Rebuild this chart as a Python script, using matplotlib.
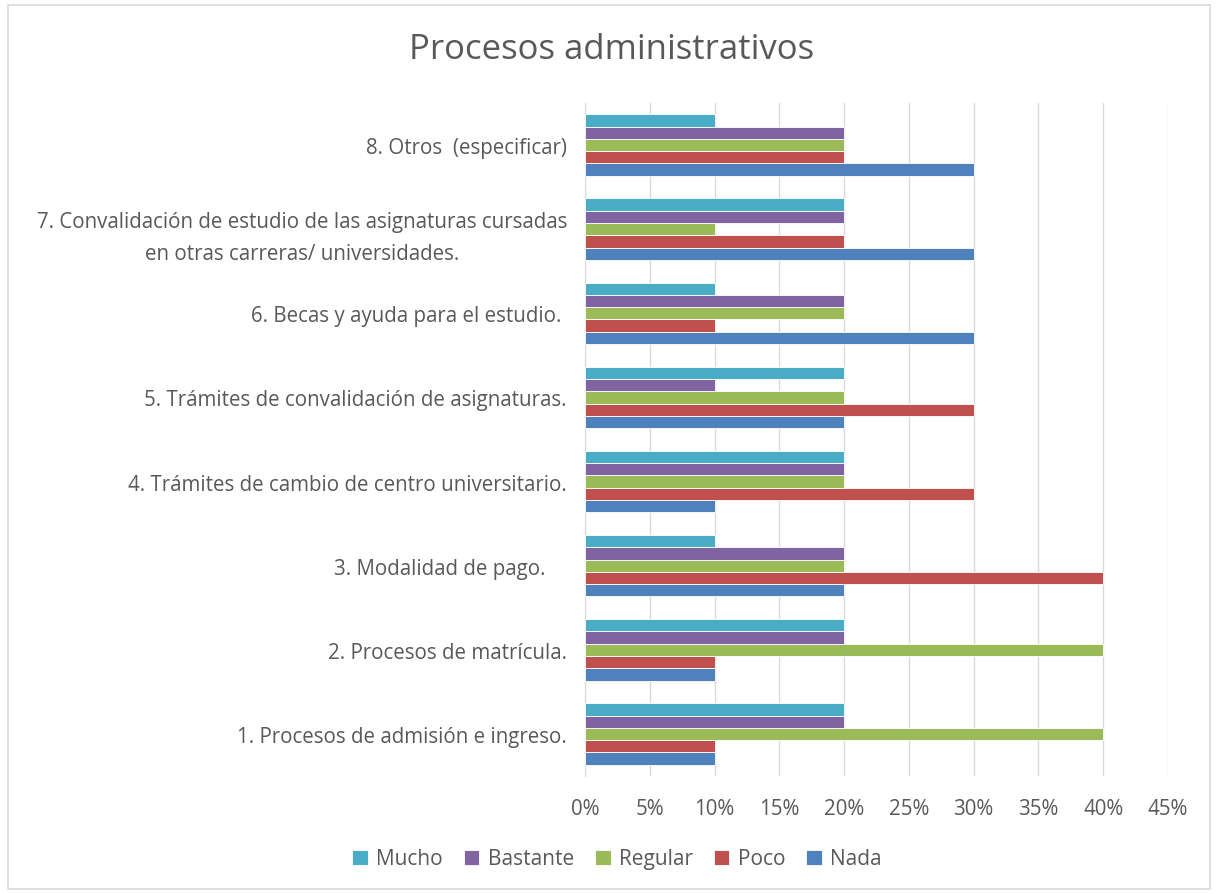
import matplotlib.pyplot as plt
import numpy as np
from matplotlib.patches import Rectangle

categories = [
    "1. Procesos de admisión e ingreso.",
    "2. Procesos de matrícula.",
    "3. Modalidad de pago.    ",
    "4. Trámites de cambio de centro universitario.",
    "5. Trámites de convalidación de asignaturas.",
    "6. Becas y ayuda para el estudio. ",
    "7. Convalidación de estudio de las asignaturas cursadas\nen otras carreras/ universidades.",
    "8. Otros  (especificar)",
]

nada = [0.10, 0.10, 0.20, 0.10, 0.20, 0.30, 0.30, 0.30]
poco = [0.10, 0.10, 0.40, 0.30, 0.30, 0.10, 0.20, 0.20]
regular = [0.40, 0.40, 0.20, 0.20, 0.20, 0.20, 0.10, 0.20]
bastante = [0.20, 0.20, 0.20, 0.20, 0.10, 0.20, 0.20, 0.20]
mucho = [0.20, 0.20, 0.10, 0.20, 0.20, 0.10, 0.20, 0.10]

series = [
    ("Nada", nada, "#4F81BD"),
    ("Poco", poco, "#C0504D"),
    ("Regular", regular, "#9BBB59"),
    ("Bastante", bastante, "#8064A2"),
    ("Mucho", mucho, "#4BACC6"),
]

xticks = [0, 0.05, 0.10, 0.15, 0.20, 0.25, 0.30, 0.35, 0.40, 0.45]

plt.rcParams['font.family'] = ['Open Sans', 'DejaVu Sans']
text_color = "#595959"

fig = plt.figure(figsize=(12.18, 8.95), dpi=100)
fig.patches.append(Rectangle((8 / 1218, 1 - 890 / 895), 1202 / 1218, 884 / 895,
                             transform=fig.transFigure, fill=False,
                             edgecolor="#d9d9d9", linewidth=1.2))

ax = fig.add_axes([585 / 1218, 1 - 777 / 895, (1168 - 585) / 1218, 673 / 895])

y = np.arange(len(categories))
h = 0.146
for i, (name, vals, color) in enumerate(series):
    ax.barh(y + (i - 2) * h, vals, height=h, color=color, label=name,
            edgecolor="white", linewidth=0.6, zorder=3)

ax.set_xlim(0, 0.45)
ax.set_ylim(-0.5, len(categories) - 0.5)
ax.set_xticks(xticks)
ax.set_xticklabels([f"{int(round(t * 100))}%" for t in xticks])
ax.set_yticks(y)
ax.set_yticklabels(categories, ha="right", multialignment="center",
                   linespacing=1.7)
ax.tick_params(axis="both", length=0, labelsize=14.8, colors=text_color)
ax.tick_params(axis="x", pad=16)
ax.tick_params(axis="y", pad=13)
ax.grid(axis="x", color="#d9d9d9", linewidth=1, zorder=0)
for s in ["top", "right", "bottom"]:
    ax.spines[s].set_visible(False)
ax.spines["left"].set_color("#d9d9d9")

fig.text(612 / 1218, 1 - 50 / 895, "Procesos administrativos", ha="center",
         va="center", fontsize=25, color=text_color)

handles, labels = ax.get_legend_handles_labels()
fig.legend(handles[::-1], labels[::-1], loc="center", ncol=5,
           bbox_to_anchor=(617 / 1218, 1 - 860 / 895), frameon=False,
           fontsize=15, labelcolor=text_color, handlelength=0.75,
           handleheight=0.75, columnspacing=1.0, handletextpad=0.4)

fig.savefig("out.png", dpi=100)
